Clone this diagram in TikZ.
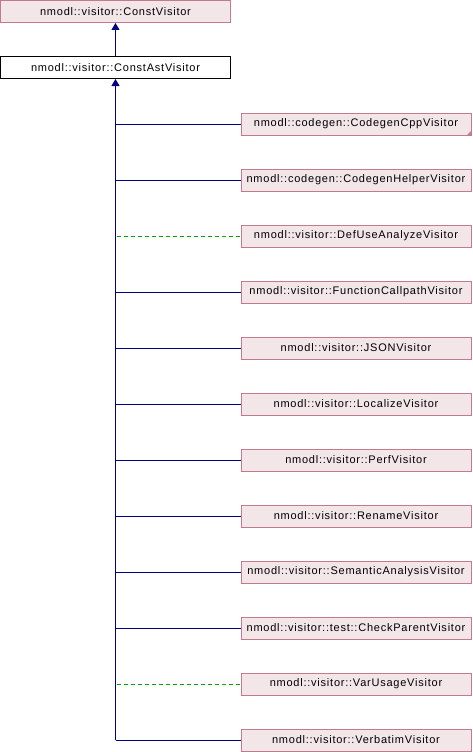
\documentclass[tikz,border=0pt]{standalone}
\usepackage{fontspec}
\setmainfont{Liberation Sans}
\newfontfamily\dxfont[LetterSpace=7]{Liberation Sans}
\usetikzlibrary{arrows.meta}
\definecolor{boxfill}{RGB}{242,230,233}
\definecolor{boxline}{RGB}{194,122,142}
\definecolor{publine}{RGB}{0,0,128}
\definecolor{protline}{RGB}{0,160,0}
\tikzset{
	cls/.style={draw=boxline, fill=boxfill, line width=1pt, minimum width=230pt, minimum height=22pt, inner sep=0pt, font=\dxfont\fontsize{11}{13}\selectfont},
	base/.style={cls, draw=black, fill=white},
	pub/.style={draw=publine, line width=1pt},
	prot/.style={draw=protline, line width=1pt, dash pattern=on 4pt off 3pt},
	inh/.style={-{Triangle[width=8pt,length=7pt]}}
}
\begin{document}
\begin{tikzpicture}[x=1pt, y=-1pt]
\useasboundingbox (0,0) rectangle (472,752);

\node at (115.5, 11.5)[cls](CV){nmodl::visitor::ConstVisitor};
\node at (115.5, 67.5)[base](CAV){nmodl::visitor::ConstAstVisitor};
\draw[pub, inh, fill=publine] (CAV) -- (CV);

\foreach \name [count=\i] in {nmodl::codegen::CodegenCppVisitor, nmodl::codegen::CodegenHelperVisitor, nmodl::visitor::DefUseAnalyzeVisitor, nmodl::visitor::FunctionCallpathVisitor, nmodl::visitor::JSONVisitor, nmodl::visitor::LocalizeVisitor, nmodl::visitor::PerfVisitor, nmodl::visitor::RenameVisitor, nmodl::visitor::SemanticAnalysisVisitor, nmodl::visitor::test::CheckParentVisitor, nmodl::visitor::VarUsageVisitor, nmodl::visitor::VerbatimVisitor}
{
	\pgfmathtruncatemacro{\y}{124+56*(\i-1)};
	\node at (356, \y)[cls](C\i){\name};
	\coordinate (J\i) at (115.5, \y);
}

% trunk
\draw[pub, inh, fill=publine] (J12) -- (CAV.south);

\foreach \i in {1,2,4,5,6,7,8,9,10,12}
	\draw[pub] (J\i) -- (C\i.west);

\foreach \i in {3,11}
	\draw[prot] ([xshift=1pt]J\i) -- (C\i.west);

% truncated mark
\fill[boxline] (C1.south east) -- ++(-5,0) -- ++(5,-5) -- cycle;
\end{tikzpicture}
\end{document}
